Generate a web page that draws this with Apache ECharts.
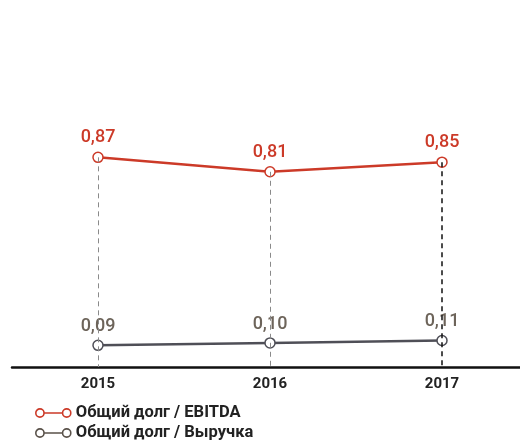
<!DOCTYPE html>
<html><head><meta charset="utf-8">
<script src="https://cdn.jsdelivr.net/npm/echarts@6/dist/echarts.min.js"></script>
<style>html,body{margin:0;padding:0;background:#fff}#c{width:520px;height:442px}</style>
</head><body><div id="c"></div>
<script>
var years = ['2015', '2016', '2017'];
var debtEbitda = [0.87, 0.81, 0.85];
var debtRevenue = [0.09, 0.10, 0.11];
var seriesNames = ['Общий долг / EBITDA', 'Общий долг / Выручка'];

var RED = '#cc3a28', GRAY = '#4f4f57', GRAYTXT = '#6d645a';
var iconPath = 'path://M0,4.5A4,4 0 1,0 8,4.5A4,4 0 1,0 0,4.5M8,4.5L26,4.5M26,4.5A4,4 0 1,0 34,4.5A4,4 0 1,0 26,4.5';
function fmt(p){ return p.value.toFixed(2).replace('.', ','); }
var FONT = 'Roboto, "DejaVu Sans", sans-serif';

var dashData = years.map(function(y, i){
  return [{coord:[y, debtEbitda[i]], lineStyle: i===2 ? {color:'#111', width:1.5, type:[5,4]} : {color:'#8a8a8a', width:1, type:[5,4]}},
          {coord:[y, 0]}];
});

var chart = echarts.init(document.getElementById('c'));
chart.setOption({
  animation: false,
  grid: {left: 12, right: -8, top: 126, bottom: 75, outerBoundsMode: 'none', containLabel: false},
  xAxis: {
    type: 'category', data: years, boundaryGap: true,
    axisLine: {lineStyle: {color: '#111', width: 2.5}},
    axisTick: {show: false},
    axisLabel: {color: '#222', fontFamily: FONT, fontWeight: 'bold', fontSize: 15, margin: 10}
  },
  yAxis: {type: 'value', min: 0, max: 1, show: false, splitLine: {show: false}},
  legend: {
    orient: 'vertical', left: 35, top: 404, height: 60, width: 400, padding: 0,
    itemWidth: 35, itemHeight: 9, itemGap: 2,
    textStyle: {fontFamily: FONT, fontWeight: 'bold', fontSize: 16.5, color: '#222', lineHeight: 18},
    data: [
      {name: seriesNames[0], icon: iconPath, itemStyle: {color: '#fff', borderColor: RED, borderWidth: 1.6}},
      {name: seriesNames[1], icon: iconPath, itemStyle: {color: '#fff', borderColor: '#5a524a', borderWidth: 1.6}}
    ]
  },
  series: [
    {
      name: 'dashes', type: 'line', data: [], z: 1, silent: true,
      markLine: {symbol: 'none', silent: true, label: {show: false}, data: dashData}
    },
    {
      name: seriesNames[0], type: 'line', data: debtEbitda, z: 3,
      symbol: 'circle', symbolSize: 10,
      lineStyle: {color: RED, width: 2.5},
      itemStyle: {color: '#fff', borderColor: RED, borderWidth: 1.5},
      label: {show: true, position: 'top', distance: 5, formatter: fmt, color: RED, fontFamily: FONT, fontWeight: 500, fontSize: 18}
    },
    {
      name: seriesNames[1], type: 'line', data: debtRevenue, z: 3,
      symbol: 'circle', symbolSize: 10,
      lineStyle: {color: GRAY, width: 2.5},
      itemStyle: {color: '#fff', borderColor: GRAY, borderWidth: 1.5},
      label: {show: true, position: 'top', distance: 4, formatter: fmt, color: GRAYTXT, fontFamily: FONT, fontWeight: 500, fontSize: 18}
    }
  ]
});
</script></body></html>
